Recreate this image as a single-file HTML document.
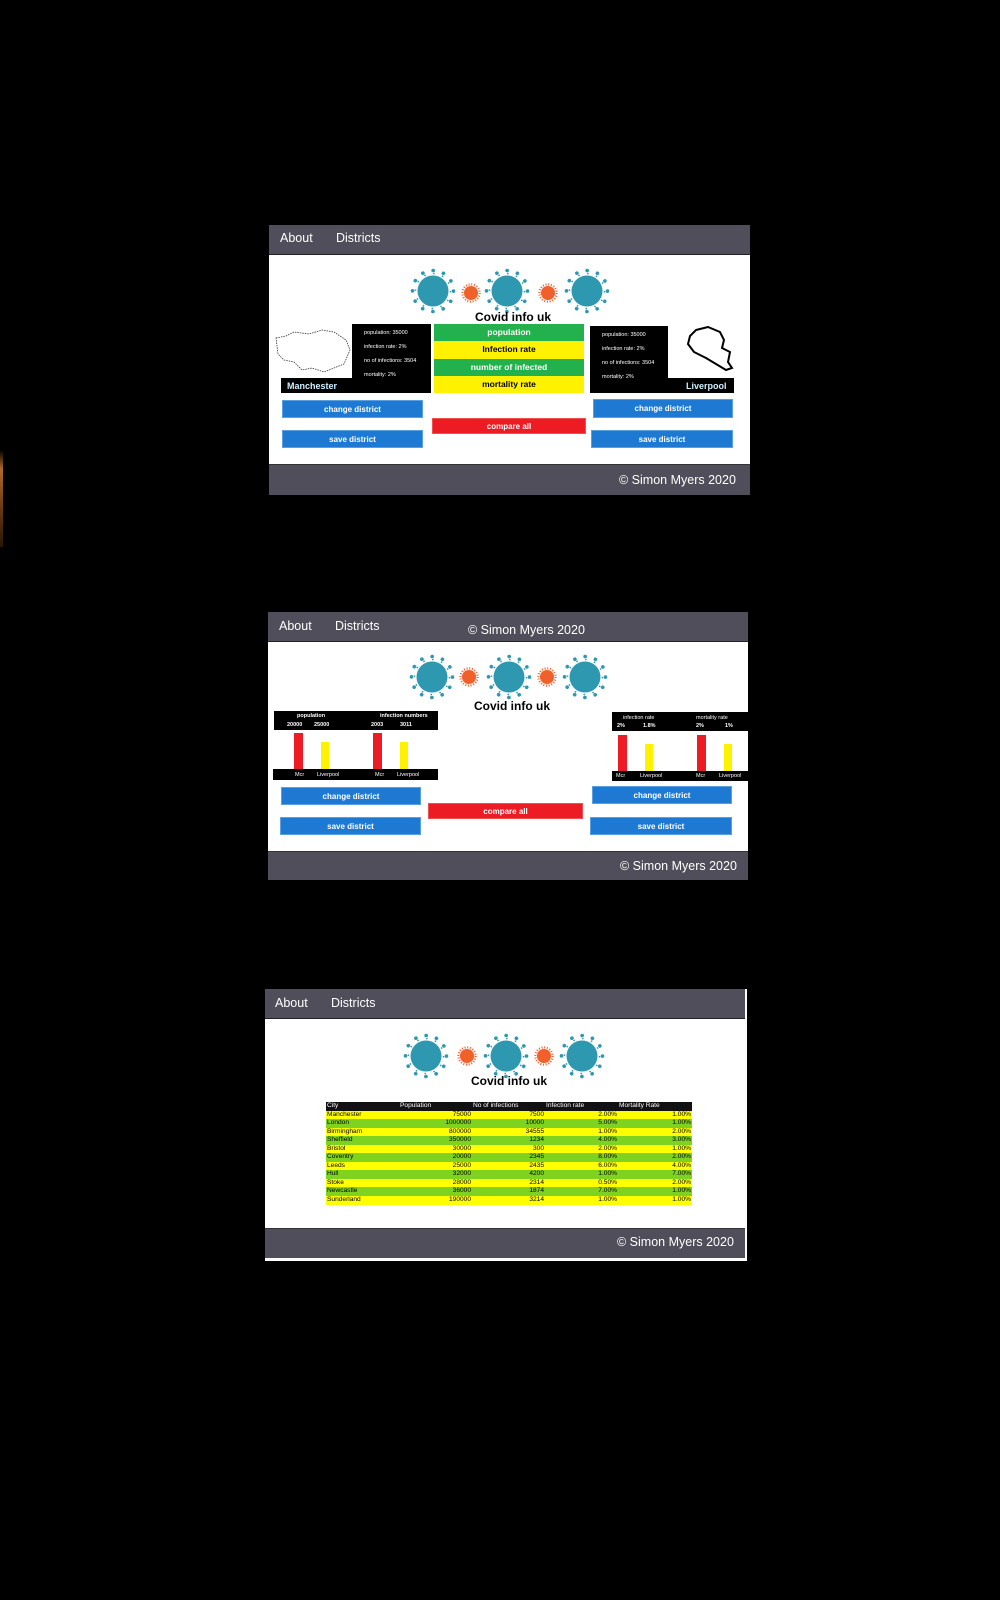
<!DOCTYPE html>
<html><head><meta charset="utf-8"><style>
*{margin:0;padding:0;box-sizing:border-box}
body{width:1000px;height:1600px;background:#000;position:relative;overflow:hidden;font-family:"Liberation Sans",sans-serif}
.a{position:absolute}
.panel{position:absolute;background:#fff}
.nav{position:absolute;background:#504e5a;color:#fff;font-size:12.5px}
.btn{position:absolute;background:#1e79d3;color:#fff;font-weight:bold;font-size:8px;display:flex;align-items:center;justify-content:center;border:1px solid #5aa0e0}
.red{background:#ed1c24;border-color:#f05050}
.t{position:absolute;white-space:nowrap}
.blk{position:absolute;background:#000}
.w6{color:#fff;font-size:5.5px}
.title{position:absolute;font-weight:bold;font-size:12px;color:#000;transform:translateX(-50%);white-space:nowrap}
table{border-collapse:collapse;font-size:6.6px;font-family:"Liberation Sans",sans-serif}
td{height:8.55px;line-height:8.55px;padding:0 1px}
</style></head><body>
<svg width="0" height="0" style="position:absolute">
<defs>
<symbol id="big" viewBox="-24 -24 48 48">
<circle r="15.5" fill="#2e98b0"/>
<circle r="17.5" fill="none" stroke="#2e98b0" stroke-width="1.5" stroke-dasharray="1.5 7.66"/>
<circle r="20.5" fill="none" stroke="#2e98b0" stroke-width="3.6" stroke-linecap="round" stroke-dasharray="0.1 10.63"/>
</symbol>
<symbol id="sm" viewBox="-12 -12 24 24">
<circle r="7" fill="#f0602a"/>
<circle r="8.6" fill="none" stroke="#f0602a" stroke-width="2.2" stroke-dasharray="1 1.7"/>
</symbol>
</defs></svg>

<div class="a" style="left:0;top:450px;width:3px;height:97px;background:linear-gradient(#000,#b06a20 20%,#6a3a10 60%,#2a1505)"></div>

<!-- PANEL 1 -->
<div class="panel" style="left:269px;top:225px;width:481px;height:270px"></div>
<div class="nav" style="left:269px;top:225px;width:481px;height:30px;border-bottom:1px solid #222"></div>
<div class="t" style="left:280px;top:231px;color:#fff;font-size:12.5px">About</div>
<div class="t" style="left:336px;top:231px;color:#fff;font-size:12.5px">Districts</div>
<svg class="a" style="left:409px;top:267px" width="48" height="48"><use href="#big"/></svg>
<svg class="a" style="left:459px;top:281px" width="24" height="24"><use href="#sm"/></svg>
<svg class="a" style="left:483px;top:267px" width="48" height="48"><use href="#big"/></svg>
<svg class="a" style="left:536px;top:281px" width="24" height="24"><use href="#sm"/></svg>
<svg class="a" style="left:563px;top:267px" width="48" height="48"><use href="#big"/></svg>
<div class="title" style="left:513px;top:310px">Covid info uk</div>
<svg class="a" style="left:274px;top:328px" width="80" height="50"><path d="M2 10 L12 8 L20 4 L35 6 L48 2 L60 4 L72 12 L76 22 L70 36 L60 40 L50 44 L38 40 L28 42 L20 34 L10 32 L4 26 Z" fill="none" stroke="#333" stroke-width="0.8" stroke-dasharray="1.5 1"/></svg>
<div class="blk" style="left:352px;top:324px;width:79px;height:69px"></div>
<div class="blk" style="left:281px;top:378px;width:150px;height:15px"></div>
<div class="t" style="left:287px;top:381px;color:#cfefff;font-size:9px;font-weight:bold">Manchester</div>
<div class="t w6" style="left:364px;top:330px">population: 35000</div>
<div class="t w6" style="left:364px;top:344px">infection rate: 2%</div>
<div class="t w6" style="left:364px;top:358px">no of infections: 3504</div>
<div class="t w6" style="left:364px;top:372px">mortality: 2%</div>
<div class="a" style="left:434px;top:324px;width:150px;height:69px">
<div style="height:17.25px;background:#22b14c;color:#fff;font-weight:bold;font-size:8.5px;text-align:center;line-height:17px">population</div>
<div style="height:17.25px;background:#fff200;color:#000;font-weight:bold;font-size:8.5px;text-align:center;line-height:17px">Infection rate</div>
<div style="height:17.25px;background:#22b14c;color:#fff;font-weight:bold;font-size:8.5px;text-align:center;line-height:17px">number of infected</div>
<div style="height:17.25px;background:#fff200;color:#000;font-weight:bold;font-size:8.5px;text-align:center;line-height:17px">mortality rate</div>
</div>
<div class="blk" style="left:590px;top:326px;width:78px;height:67px"></div>
<div class="blk" style="left:590px;top:378px;width:144px;height:15px"></div>
<div class="t" style="left:686px;top:381px;color:#cfefff;font-size:9px;font-weight:bold">Liverpool</div>
<div class="t w6" style="left:602px;top:332px">population: 35000</div>
<div class="t w6" style="left:602px;top:346px">infection rate: 2%</div>
<div class="t w6" style="left:602px;top:360px">no of infections: 3504</div>
<div class="t w6" style="left:602px;top:374px">mortality: 2%</div>
<svg class="a" style="left:686px;top:326px" width="48" height="46"><path d="M10 4 L22 1 L34 6 L38 14 L36 22 L44 26 L42 36 L46 42 L40 44 L30 38 L20 32 L8 26 L2 18 L4 10 Z" fill="none" stroke="#000" stroke-width="2"/></svg>
<div class="btn" style="left:282px;top:400px;width:141px;height:18px">change district</div>
<div class="btn" style="left:282px;top:430px;width:141px;height:18px">save district</div>
<div class="btn red" style="left:432px;top:418px;width:154px;height:16px">compare all</div>
<div class="btn" style="left:593px;top:399px;width:140px;height:19px">change district</div>
<div class="btn" style="left:591px;top:430px;width:142px;height:18px">save district</div>
<div class="nav" style="left:269px;top:464px;width:481px;height:31px;border-top:1px solid #333"></div>
<div class="t" style="left:619px;top:473px;color:#fff;font-size:12.5px">© Simon Myers 2020</div>

<!-- PANEL 2 -->
<div class="panel" style="left:268px;top:612px;width:480px;height:268px"></div>
<div class="nav" style="left:268px;top:612px;width:480px;height:30px;border-bottom:1px solid #222"></div>
<div class="t" style="left:279px;top:619px;color:#fff;font-size:12.5px">About</div>
<div class="t" style="left:335px;top:619px;color:#fff;font-size:12.5px">Districts</div>
<div class="t" style="left:468px;top:623px;color:#fff;font-size:12.5px">© Simon Myers 2020</div>
<svg class="a" style="left:408px;top:653px" width="48" height="48"><use href="#big"/></svg>
<svg class="a" style="left:457px;top:665px" width="24" height="24"><use href="#sm"/></svg>
<svg class="a" style="left:485px;top:653px" width="48" height="48"><use href="#big"/></svg>
<svg class="a" style="left:535px;top:665px" width="24" height="24"><use href="#sm"/></svg>
<svg class="a" style="left:561px;top:653px" width="48" height="48"><use href="#big"/></svg>
<div class="title" style="left:512px;top:699px">Covid info uk</div>
<div class="blk" style="left:274px;top:711px;width:164px;height:19px"></div>
<div class="t w6" style="left:297px;top:713px;font-weight:bold">population</div>
<div class="t w6" style="left:380px;top:713px;font-weight:bold">infection numbers</div>
<div class="t w6" style="left:287px;top:722px;font-weight:bold">20000</div>
<div class="t w6" style="left:314px;top:722px;font-weight:bold">25000</div>
<div class="t w6" style="left:371px;top:722px;font-weight:bold">2003</div>
<div class="t w6" style="left:400px;top:722px;font-weight:bold">3011</div>
<div class="a" style="left:294px;top:733px;width:9px;height:36px;background:#ed1c24"></div>
<div class="a" style="left:321px;top:742px;width:8px;height:27px;background:#fff200"></div>
<div class="a" style="left:373px;top:733px;width:9px;height:36px;background:#ed1c24"></div>
<div class="a" style="left:400px;top:742px;width:8px;height:27px;background:#fff200"></div>
<div class="blk" style="left:273px;top:769px;width:165px;height:11px"></div>
<div class="t w6" style="left:295px;top:772px">Mcr</div>
<div class="t w6" style="left:317px;top:772px">Liverpool</div>
<div class="t w6" style="left:375px;top:772px">Mcr</div>
<div class="t w6" style="left:397px;top:772px">Liverpool</div>
<div class="blk" style="left:612px;top:712px;width:136px;height:19px"></div>
<div class="t w6" style="left:623px;top:715px">infection rate</div>
<div class="t w6" style="left:696px;top:715px">mortality rate</div>
<div class="t w6" style="left:617px;top:723px;font-weight:bold">2%</div>
<div class="t w6" style="left:643px;top:723px;font-weight:bold">1.8%</div>
<div class="t w6" style="left:696px;top:723px;font-weight:bold">2%</div>
<div class="t w6" style="left:725px;top:723px;font-weight:bold">1%</div>
<div class="a" style="left:618px;top:735px;width:9px;height:36px;background:#ed1c24"></div>
<div class="a" style="left:645px;top:744px;width:8px;height:27px;background:#fff200"></div>
<div class="a" style="left:697px;top:735px;width:9px;height:36px;background:#ed1c24"></div>
<div class="a" style="left:724px;top:744px;width:8px;height:27px;background:#fff200"></div>
<div class="blk" style="left:612px;top:771px;width:136px;height:10px"></div>
<div class="t w6" style="left:616px;top:773px">Mcr</div>
<div class="t w6" style="left:640px;top:773px">Liverpool</div>
<div class="t w6" style="left:696px;top:773px">Mcr</div>
<div class="t w6" style="left:719px;top:773px">Liverpool</div>
<div class="btn" style="left:281px;top:787px;width:140px;height:18px">change district</div>
<div class="btn" style="left:280px;top:817px;width:141px;height:18px">save district</div>
<div class="btn red" style="left:428px;top:803px;width:155px;height:16px">compare all</div>
<div class="btn" style="left:592px;top:786px;width:140px;height:18px">change district</div>
<div class="btn" style="left:590px;top:817px;width:142px;height:18px">save district</div>
<div class="nav" style="left:268px;top:851px;width:480px;height:29px;border-top:1px solid #333"></div>
<div class="t" style="left:620px;top:859px;color:#fff;font-size:12.5px">© Simon Myers 2020</div>

<!-- PANEL 3 -->
<div class="panel" style="left:265px;top:989px;width:482px;height:272px"></div>
<div class="nav" style="left:265px;top:989px;width:480px;height:30px;border-bottom:1px solid #222"></div>
<div class="t" style="left:275px;top:996px;color:#fff;font-size:12.5px">About</div>
<div class="t" style="left:331px;top:996px;color:#fff;font-size:12.5px">Districts</div>
<svg class="a" style="left:402px;top:1032px" width="48" height="48"><use href="#big"/></svg>
<svg class="a" style="left:455px;top:1044px" width="24" height="24"><use href="#sm"/></svg>
<svg class="a" style="left:482px;top:1032px" width="48" height="48"><use href="#big"/></svg>
<svg class="a" style="left:532px;top:1044px" width="24" height="24"><use href="#sm"/></svg>
<svg class="a" style="left:558px;top:1032px" width="48" height="48"><use href="#big"/></svg>
<div class="title" style="left:509px;top:1074px">Covid info uk</div>
<table class="a" style="left:326px;top:1102px;width:366px">
<tr style="background:#111;color:#fff"><td style="width:73px">City</td><td style="width:73px">Population</td><td style="width:73px">No of infections</td><td style="width:73px">Infection rate</td><td>Mortality Rate</td></tr>
<tr style="background:#ffff00"><td>Manchester</td><td align="right">75000</td><td align="right">7500</td><td align="right">2.00%</td><td align="right">1.00%</td></tr>
<tr style="background:#7ed321"><td>London</td><td align="right">1000000</td><td align="right">10000</td><td align="right">5.00%</td><td align="right">1.00%</td></tr>
<tr style="background:#ffff00"><td>Birmingham</td><td align="right">800000</td><td align="right">34555</td><td align="right">1.00%</td><td align="right">2.00%</td></tr>
<tr style="background:#7ed321"><td>Sheffield</td><td align="right">350000</td><td align="right">1234</td><td align="right">4.00%</td><td align="right">3.00%</td></tr>
<tr style="background:#ffff00"><td>Bristol</td><td align="right">30000</td><td align="right">300</td><td align="right">2.00%</td><td align="right">1.00%</td></tr>
<tr style="background:#7ed321"><td>Coventry</td><td align="right">20000</td><td align="right">2345</td><td align="right">8.00%</td><td align="right">2.00%</td></tr>
<tr style="background:#ffff00"><td>Leeds</td><td align="right">25000</td><td align="right">2435</td><td align="right">6.00%</td><td align="right">4.00%</td></tr>
<tr style="background:#7ed321"><td>Hull</td><td align="right">32000</td><td align="right">4200</td><td align="right">1.00%</td><td align="right">7.00%</td></tr>
<tr style="background:#ffff00"><td>Stoke</td><td align="right">28000</td><td align="right">2314</td><td align="right">0.50%</td><td align="right">2.00%</td></tr>
<tr style="background:#7ed321"><td>Newcastle</td><td align="right">36000</td><td align="right">1874</td><td align="right">7.00%</td><td align="right">1.00%</td></tr>
<tr style="background:#ffff00"><td>Sunderland</td><td align="right">190000</td><td align="right">3214</td><td align="right">1.00%</td><td align="right">1.00%</td></tr>
</table>
<div class="nav" style="left:265px;top:1228px;width:480px;height:30px;border-top:1px solid #333"></div>
<div class="t" style="left:617px;top:1235px;color:#fff;font-size:12.5px">© Simon Myers 2020</div>
</body></html>
